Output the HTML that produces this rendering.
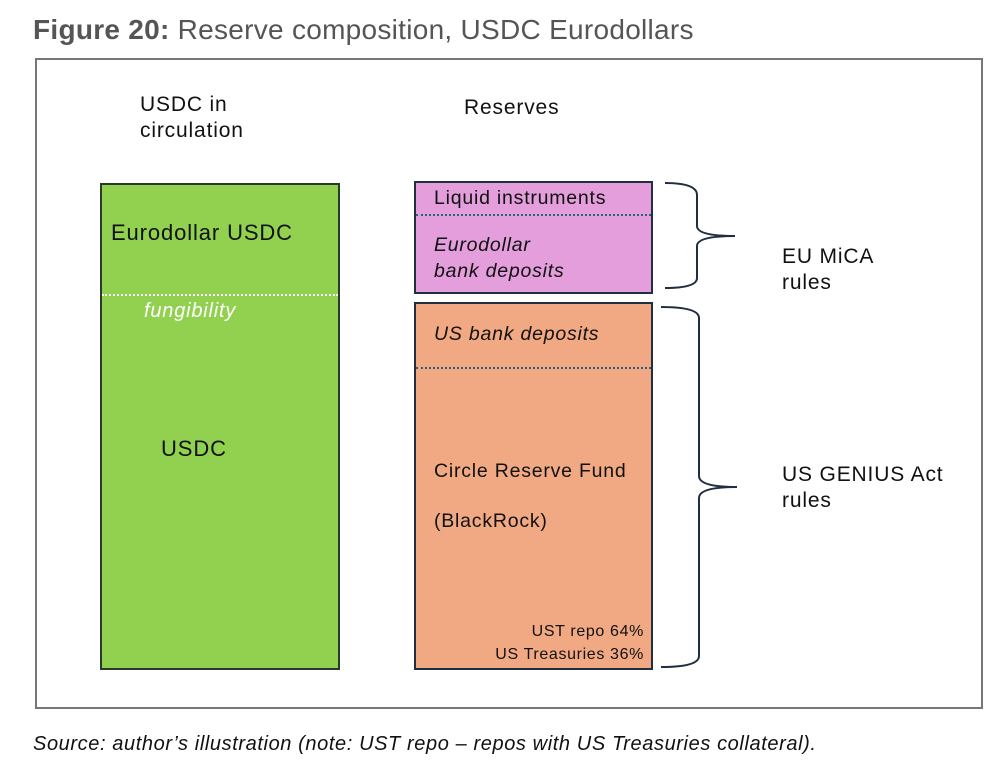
<!DOCTYPE html>
<html><head><style>
body{margin:0;width:1000px;height:783px;background:#fff;font-family:"Liberation Sans",sans-serif;position:relative;overflow:hidden;color:#111}
.a{position:absolute;white-space:nowrap;letter-spacing:0.04em}
</style></head><body>
<div class="a" style="left:33px;top:14px;font-size:28px;color:#555;letter-spacing:0.01em"><b>Figure 20:</b> Reserve composition, USDC Eurodollars</div>
<div class="a" style="left:35px;top:58px;width:944px;height:647px;border:2px solid #777"></div>
<div class="a" style="left:140px;top:92px;font-size:21px;line-height:26px">USDC in<br>circulation</div>
<div class="a" style="left:464px;top:96px;font-size:21px">Reserves</div>
<div class="a" style="left:100px;top:183px;width:236px;height:483px;background:#92d050;border:2px solid #2a3a2a"></div>
<div class="a" style="left:102px;top:294px;width:236px;border-top:2px dotted #fff"></div>
<div class="a" style="left:111px;top:220px;font-size:22px">Eurodollar USDC</div>
<div class="a" style="left:144px;top:300px;font-size:20px;font-style:italic;color:#fff">fungibility</div>
<div class="a" style="left:161px;top:436px;font-size:22px">USDC</div>
<div class="a" style="left:414px;top:181px;width:235px;height:109px;background:#e39edb;border:2px solid #1f2e40"></div>
<div class="a" style="left:416px;top:214px;width:235px;border-top:2px dotted #2a6080"></div>
<div class="a" style="left:434px;top:187px;font-size:19.5px">Liquid instruments</div>
<div class="a" style="left:434px;top:232px;font-size:19.5px;font-style:italic;line-height:26px">Eurodollar<br>bank deposits</div>
<div class="a" style="left:414px;top:302px;width:235px;height:364px;background:#f1a983;border:2px solid #1f2e40"></div>
<div class="a" style="left:416px;top:367px;width:235px;border-top:2px dotted #2a6080"></div>
<div class="a" style="left:434px;top:323px;font-size:19.5px;font-style:italic">US bank deposits</div>
<div class="a" style="left:434px;top:460px;font-size:19.5px">Circle Reserve Fund</div>
<div class="a" style="left:434px;top:510px;font-size:19.5px">(BlackRock)</div>
<div class="a" style="left:380px;width:264px;top:620px;font-size:16px;text-align:right;line-height:23px">UST repo 64%<br>US Treasuries 36%</div>
<svg class="a" style="left:0;top:0" width="1000" height="783">
<path d="M665 183 Q697 183 697 195 L697 226 Q697 236 735 236 Q697 236 697 246 L697 278 Q697 288 665 288" fill="none" stroke="#1f2e40" stroke-width="2"/>
<path d="M661 307 Q699 307 699 318 L699 476 Q699 487 737 487 Q699 487 699 498 L699 656 Q699 667 661 667" fill="none" stroke="#1f2e40" stroke-width="2"/>
</svg>
<div class="a" style="left:782px;top:244px;font-size:21px;line-height:26px">EU MiCA<br>rules</div>
<div class="a" style="left:782px;top:462px;font-size:21px;line-height:26px">US GENIUS Act<br>rules</div>
<div class="a" style="left:33px;top:733px;font-size:20px;font-style:italic;letter-spacing:0.03em">Source: author’s illustration (note: UST repo – repos with US Treasuries collateral).</div>
</body></html>
